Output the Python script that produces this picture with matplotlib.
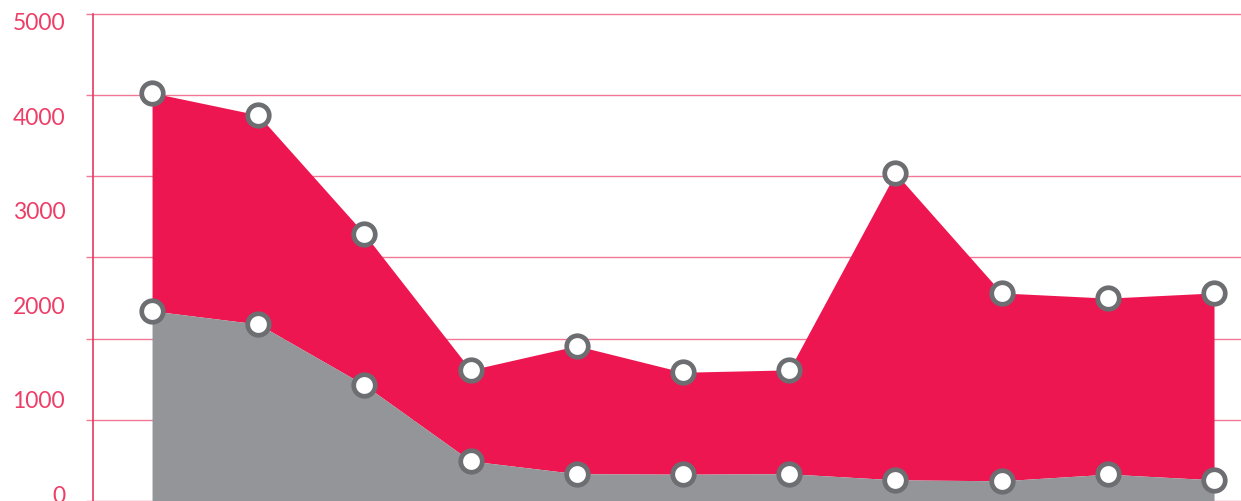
import matplotlib.pyplot as plt

# values, in units of the y labels
points = list(range(11))
upper = [4250, 4015, 2755, 1315, 1570, 1290, 1315, 3400, 2130, 2075, 2130]
lower = [1940, 1800, 1155, 350, 215, 210, 215, 150, 140, 210, 150]
yticks = [0, 1000, 2000, 3000, 4000, 5000]

red = '#ee1651'
grey = '#939598'
pink = '#ee3d67'

fig = plt.figure(figsize=(12.41, 5.01), dpi=100)
ax = fig.add_axes([93 / 1241, 0, 1 - 93 / 1241, 1])
ax2 = ax.twinx()
ax.set_zorder(ax2.get_zorder() + 1)
ax.patch.set_visible(False)

# grid layer: lines are spaced differently from the labels in the original
ax2.set_ylim(12, 6172)
ax2.set_yticks(range(0, 7000, 1000))
ax2.tick_params(axis='y', left=True, right=False, length=5, width=1, color='#f07a96',
                labelleft=False, labelright=False)
ax2.grid(axis='y', color='#f07a96', linewidth=1)
ax2.set_xticks([])
for s in ax2.spines.values():
    s.set_visible(False)

ax.fill_between(points, lower, upper, color=red, linewidth=0)
ax.fill_between(points, -200, lower, color=grey, linewidth=0)
for series in (upper, lower):
    ax.plot(points, series, linestyle='none', marker='o', markersize=15.5,
            markerfacecolor='white', markeredgecolor='#6d6e71', markeredgewidth=3.4)

ax.set_xlim(-0.556, 10.254)
ax.set_ylim(-74, 5233)
ax.set_xticks([])
ax.set_yticks(yticks)
ax.set_yticklabels([str(v) for v in yticks])
ax.tick_params(axis='y', length=0, pad=20, labelcolor=pink, labelsize=16.5)
for lab in ax.get_yticklabels():
    lab.set_fontfamily('Lato')
    lab.set_fontweight('normal')
for name, s in ax.spines.items():
    s.set_visible(name == 'left')
ax.spines['left'].set_color('#e8385f')
ax.spines['left'].set_linewidth(1.2)
ax.spines['left'].set_bounds(5085, -74)

fig.savefig('out.png', dpi=100)
